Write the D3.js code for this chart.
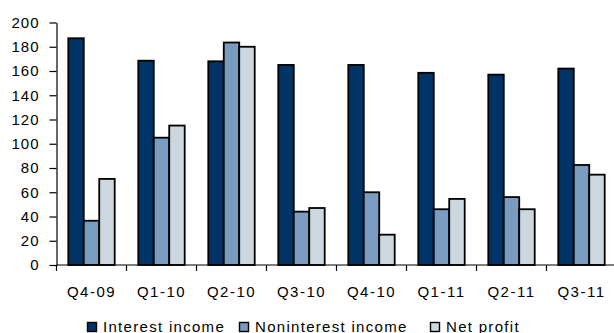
<!DOCTYPE html>
<html>
<head>
<meta charset="utf-8">
<script src="https://cdn.jsdelivr.net/npm/d3@7"></script>
<style>
  body { margin: 0; background: #fff; }
  svg text { font-family: "Liberation Sans", Arial, sans-serif; fill: #000; }
</style>
</head>
<body>
<div id="chart"></div>
<script>
// ----------------------------
// Data
// ----------------------------
var quarters = ["Q4-09", "Q1-10", "Q2-10", "Q3-10", "Q4-10", "Q1-11", "Q2-11", "Q3-11"];
var seriesNames = ["Interest income", "Noninterest income", "Net profit"];
var interestIncome = [187, 168.5, 168, 165, 165, 158.5, 157, 162];
var noninterestIncome = [36.5, 105, 183.5, 44, 60, 46, 56, 82.5];
var netProfit = [71, 115, 180, 47, 25, 54.5, 46, 74.5];
var yTicks = [0, 20, 40, 60, 80, 100, 120, 140, 160, 180, 200];
var colors = ["#003366", "#7A9CC0", "#CCD7E0"];

var Vis = {};
Vis.width = 614;
Vis.height = 333;
Vis.left = 56.5;
Vis.right = 616.5;
Vis.top = 22.5;
Vis.bottom = 265;
Vis.pad = 0.337;

Vis.rows = quarters.map((q, i) => ({
	quarter: q,
	values: [interestIncome[i], noninterestIncome[i], netProfit[i]]
}));

// ----------------------------
// Scales
// ----------------------------
Vis.x0 = d3.scaleBand()
	.domain(quarters)
	.range([Vis.left, Vis.right])
	.paddingInner(Vis.pad)
	.paddingOuter(Vis.pad / 2);

Vis.x1 = d3.scaleBand()
	.domain(d3.range(seriesNames.length))
	.range([0, Vis.x0.bandwidth()]);

Vis.y = d3.scaleLinear()
	.domain([0, 200])
	.range([Vis.bottom, Vis.top]);

Vis.svg = d3.select("#chart").append("svg")
	.attr("width", Vis.width)
	.attr("height", Vis.height);

// ----------------------------
// Bars
// ----------------------------
Vis.groups = Vis.svg.selectAll("g.group")
	.data(Vis.rows)
	.enter()
	.append("g")
	.attr("class", "group")
	.attr("transform", d => `translate(${Vis.x0(d.quarter)},0)`);

Vis.groups.selectAll("rect")
	.data(d => d.values.map((v, k) => ({v: v, k: k})))
	.enter()
	.append("rect")
	.attr("x", d => Vis.x1(d.k))
	.attr("y", d => Vis.y(d.v))
	.attr("width", Vis.x1.bandwidth())
	.attr("height", d => Vis.y(0) - Vis.y(d.v))
	.attr("fill", d => colors[d.k])
	.attr("stroke", "#000")
	.attr("stroke-width", 1.8);

// ----------------------------
// Y axis
// ----------------------------
Vis.yAxis = Vis.svg.append("g")
	.attr("transform", `translate(${Vis.left},0)`)
	.call(d3.axisLeft(Vis.y).tickValues(yTicks).tickSize(7).tickPadding(10).tickSizeOuter(0));
Vis.yAxis.select(".domain").attr("stroke", "#000").attr("stroke-width", 1.2);
Vis.yAxis.selectAll(".tick line").attr("stroke", "#000").attr("stroke-width", 1.2);
Vis.yAxis.selectAll("text")
	.attr("font-size", 15)
	.attr("letter-spacing", 1)
	.style("font-family", "'Liberation Sans', Arial, sans-serif");

// ----------------------------
// X axis with boundary ticks
// ----------------------------
Vis.step = Vis.x0.step();
Vis.boundaries = d3.range(quarters.length + 1).map(i => Vis.left + i * Vis.step);

Vis.svg.append("line")
	.attr("x1", Vis.left)
	.attr("x2", Vis.right)
	.attr("y1", Vis.bottom)
	.attr("y2", Vis.bottom)
	.attr("stroke", "#000")
	.attr("stroke-width", 1.2);

Vis.svg.selectAll("line.xtick")
	.data(Vis.boundaries)
	.enter()
	.append("line")
	.attr("class", "xtick")
	.attr("x1", d => d)
	.attr("x2", d => d)
	.attr("y1", Vis.bottom)
	.attr("y2", Vis.bottom + 6)
	.attr("stroke", "#000")
	.attr("stroke-width", 1.2);

Vis.svg.selectAll("text.xlabel")
	.data(quarters)
	.enter()
	.append("text")
	.attr("class", "xlabel")
	.attr("x", d => Vis.x0(d) + Vis.x0.bandwidth() / 2)
	.attr("y", 297)
	.attr("text-anchor", "middle")
	.attr("font-size", 15)
	.attr("letter-spacing", 1.5)
	.text(d => d);

// ----------------------------
// Legend
// ----------------------------
Vis.legendX = [87, 239, 430];
Vis.legend = Vis.svg.selectAll("g.legend")
	.data(seriesNames)
	.enter()
	.append("g")
	.attr("class", "legend")
	.attr("transform", (d, i) => `translate(${Vis.legendX[i]},322)`);

Vis.legend.append("rect")
	.attr("x", 0.5)
	.attr("y", 0.5)
	.attr("width", 9)
	.attr("height", 9)
	.attr("fill", (d, i) => colors[i])
	.attr("stroke", "#000")
	.attr("stroke-width", 1.4);

Vis.legend.append("text")
	.attr("x", 16)
	.attr("y", 9.5)
	.attr("font-size", 15)
	.attr("letter-spacing", 1.3)
	.text(d => d);
</script>
</body>
</html>
